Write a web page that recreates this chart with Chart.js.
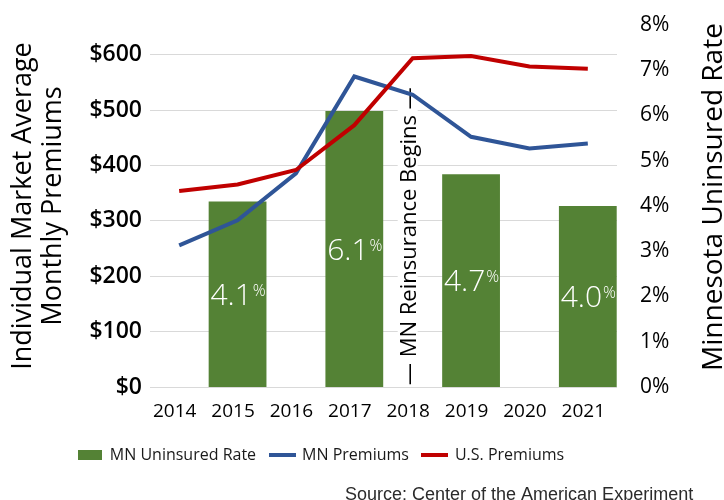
<!DOCTYPE html>
<html><head><meta charset="utf-8">
<script src="https://cdn.jsdelivr.net/npm/chart.js@4/dist/chart.umd.min.js"></script>
<style>html,body{margin:0;padding:0;background:#fff;}canvas{display:block;}</style>
</head><body>
<canvas id="c" width="724" height="500"></canvas>
<script>
// ---- data ----
const years = ['2014','2015','2016','2017','2018','2019','2020','2021'];
const uninsuredRate = [null, 4.1, null, 6.1, null, 4.7, null, 4.0];
const mnPremiums = [256, 301, 386, 561, 528, 452, 431, 440];
const usPremiums = [354, 366, 392, 473, 594, 598, 579, 575];
const premiumTicks = [0, 100, 200, 300, 400, 500, 600];
const rateTicks = [0, 1, 2, 3, 4, 5, 6, 7, 8];
const seriesNames = ['MN Uninsured Rate', 'MN Premiums', 'U.S. Premiums'];
const leftTitle = ['Individual Market Average', 'Monthly Premiums'];
const rightTitle = 'Minnesota Uninsured Rate';
const annotationYear = '2018';
const annotationText = '\u2014 MN Reinsurance Begins \u2014';
const sourceText = 'Source: Center of the American Experiment';

// ---- styles ----
const FAM = "'Open Sans', 'Noto Sans', sans-serif";
const GREEN = '#548235', BLUE = '#2F5597', RED = '#C00000';
Chart.defaults.font.family = FAM;
Chart.defaults.color = '#000';

function makeIcon(w, h, color) {
  const c = document.createElement('canvas');
  c.width = w; c.height = h;
  const g = c.getContext('2d');
  g.fillStyle = color; g.fillRect(0, 0, w, h);
  return c;
}
const legendIcons = [makeIcon(24, 10, GREEN), makeIcon(27, 4, BLUE), makeIcon(27, 4, RED)];

const customDraw = {
  id: 'customDraw',
  afterLayout(chart) {
    const lg = chart.legend;
    if (!lg || !lg.lineWidths) return;
    const p = lg.options.labels.padding;
    const W = lg.lineWidths[0] - p;
    const start = 321 - W / 2;
    lg.left = start - p;
  },
  beforeDatasetsDraw(chart) {
    const {ctx, chartArea} = chart;
    const xs = chart.scales.x;
    const x = xs.getPixelForValue(years.indexOf(annotationYear));
    ctx.save();
    ctx.font = '22px ' + FAM;
    const tw = ctx.measureText(annotationText).width;
    const yStart = chartArea.bottom - 2;
    ctx.fillStyle = '#fff';
    ctx.fillRect(x - 15, yStart - tw - 2, 20, tw + 1);
    ctx.translate(x + 3.5, yStart);
    ctx.rotate(-Math.PI / 2);
    ctx.fillStyle = '#000';
    ctx.textAlign = 'left';
    ctx.textBaseline = 'alphabetic';
    ctx.fillText(annotationText, 0, 0);
    ctx.restore();
  },
  afterDatasetsDraw(chart) {
    const {ctx} = chart;
    const meta = chart.getDatasetMeta(0);
    ctx.save();
    meta.data.forEach((bar, i) => {
      const v = uninsuredRate[i];
      if (v == null) return;
      const {x, y, base} = bar.getProps(['x', 'y', 'base'], true);
      const cy = (y + base) / 2;
      const num = v.toFixed(1);
      const bigF = "300 30px " + FAM, smallF = "300 16px " + FAM;
      ctx.font = bigF; const w1 = ctx.measureText(num).width;
      ctx.font = smallF; const w2 = ctx.measureText('%').width;
      const x0 = x - (w1 + w2) / 2;
      const cap = 0.714 * 30;
      ctx.fillStyle = '#fff';
      ctx.textAlign = 'left';
      ctx.textBaseline = 'alphabetic';
      ctx.font = bigF; ctx.fillText(num, x0, cy + cap / 2);
      ctx.font = smallF; ctx.fillText('%', x0 + w1 + 1, cy - cap / 2 + 0.714 * 16 + 1);
    });
    ctx.restore();
  },
  afterDraw(chart) {
    const {ctx, chartArea} = chart;
    ctx.save();
    ctx.font = '28px ' + FAM;
    ctx.fillStyle = '#000';
    ctx.translate(722, (chartArea.top + chartArea.bottom) / 2 - 9);
    ctx.rotate(-Math.PI / 2);
    ctx.textAlign = 'center';
    ctx.textBaseline = 'alphabetic';
    ctx.fillText(rightTitle, 0, 0);
    ctx.restore();
    ctx.save();
    ctx.font = "18px 'Liberation Sans', Arial, sans-serif";
    ctx.fillStyle = '#2b2b2b';
    ctx.textAlign = 'left';
    ctx.textBaseline = 'alphabetic';
    ctx.fillText(sourceText, 345, 500);
    ctx.restore();
  }
};

new Chart(document.getElementById('c'), {
  data: {
    labels: years,
    datasets: [
      { type: 'bar', label: seriesNames[0], data: uninsuredRate, yAxisID: 'y1',
        backgroundColor: GREEN, borderWidth: 0, categoryPercentage: 1, barPercentage: 0.99, order: 3 },
      { type: 'line', label: seriesNames[1], data: mnPremiums, yAxisID: 'y',
        borderColor: BLUE, backgroundColor: BLUE, borderWidth: 4, pointRadius: 0, tension: 0, fill: false, order: 2 },
      { type: 'line', label: seriesNames[2], data: usPremiums, yAxisID: 'y',
        borderColor: RED, backgroundColor: RED, borderWidth: 4, pointRadius: 0, tension: 0, fill: false, order: 1 }
    ]
  },
  options: {
    responsive: false,
    animation: false,
    devicePixelRatio: 1,
    layout: { padding: { top: 25, bottom: 27, left: 0, right: 0 } },
    scales: {
      x: {
        offset: true,
        grid: { display: false, drawTicks: false },
        border: { display: false },
        ticks: { color: '#000', font: { size: 19 }, padding: 13, labelOffset: -4.5, maxRotation: 0, autoSkip: false },
        afterFit: s => { s.height = 46; }
      },
      y: {
        position: 'left', min: 0, max: 654,
        afterBuildTicks: a => { a.ticks = premiumTicks.map(v => ({ value: v })); },
        grid: { color: '#d9d9d9', lineWidth: 1, drawTicks: false },
        border: { display: false },
        ticks: { padding: 8, color: '#000', font: { size: 23, weight: '600' }, callback: v => '$' + v },
        title: { display: true, text: leftTitle, color: '#000', font: { size: 27, lineHeight: 30 / 27 }, padding: { top: 8, bottom: 0 } },
        afterFit: s => { s.width = 150; s.paddingTop = 0; s.paddingBottom = 0; }
      },
      y1: {
        position: 'right', min: 0, max: 8,
        afterBuildTicks: a => { a.ticks = rateTicks.map(v => ({ value: v })); },
        grid: { display: false, drawTicks: false },
        border: { display: false },
        ticks: { padding: 23, color: '#000', font: { size: 21, weight: '500' }, callback: v => v + '%' },
        afterFit: s => { s.width = 107; s.paddingTop = 0; s.paddingBottom = 0; }
      }
    },
    plugins: {
      tooltip: { enabled: false },
      legend: {
        display: true, position: 'bottom', align: 'start',
        labels: {
          usePointStyle: true, pointStyleWidth: 24, padding: 14,
          color: '#1a1a1a', font: { size: 16 },
          sort: (a, b) => a.datasetIndex - b.datasetIndex,
          generateLabels: chart => {
            const items = Chart.defaults.plugins.legend.labels.generateLabels(chart);
            items.forEach(it => { it.pointStyle = legendIcons[it.datasetIndex]; });
            return items;
          }
        }
      }
    }
  },
  plugins: [customDraw]
});
</script>
</body></html>
